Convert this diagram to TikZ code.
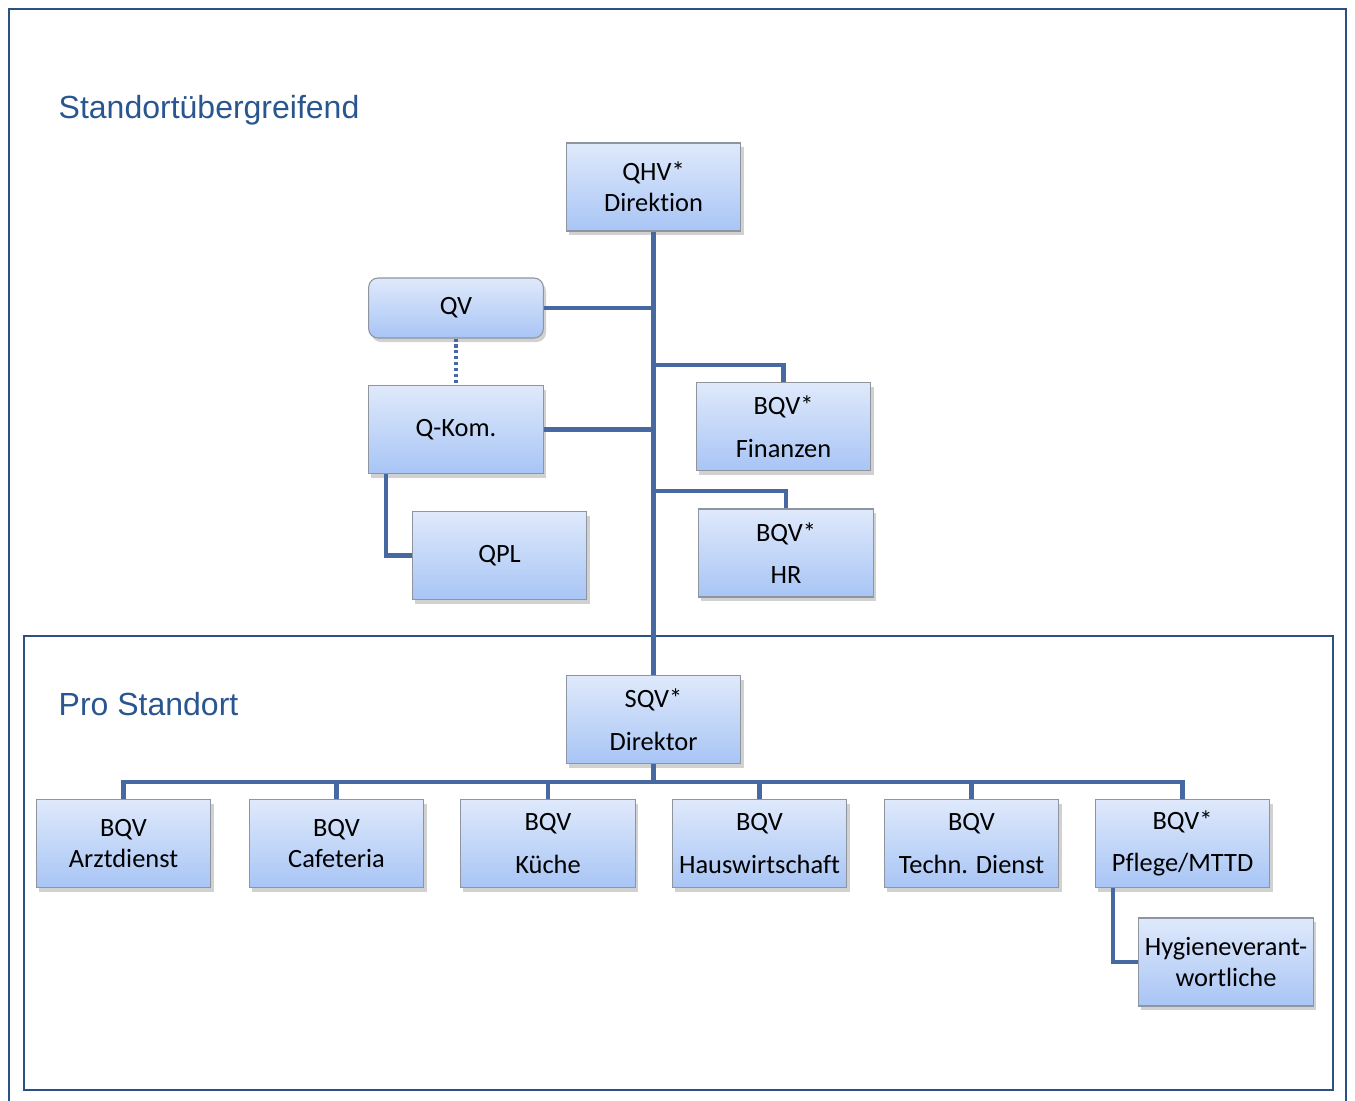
\documentclass[tikz,border=0pt]{standalone}
\usepackage{fontspec}
\setmainfont{Carlito}[Ligatures=NoCommon]
\newfontfamily\headfont{Liberation Sans}
\usetikzlibrary{shadows}

\definecolor{framecol}{HTML}{2B5184}
\definecolor{headcol}{HTML}{2A5690}
\definecolor{linecol}{HTML}{4569A0}
\definecolor{boxtop}{HTML}{DFE9FB}
\definecolor{boxbot}{HTML}{A8C5F5}
\definecolor{boxline}{HTML}{8E959E}

\tikzset{
  orgbox/.style={draw=boxline, line width=0.8pt, top color=boxtop, bottom color=boxbot,
    minimum width=131pt, minimum height=66pt, align=center, inner sep=2pt,
    font=\fontsize{19.8}{23}\selectfont,
    drop shadow={shadow xshift=2pt, shadow yshift=-3pt, opacity=0.3, fill=black!60}},
  orground/.style={orgbox, rounded corners=7pt, minimum height=45pt},
  conn/.style={linecol, line width=3.3pt},
  heading/.style={headcol, font=\headfont\fontsize{24}{28}\selectfont, anchor=west},
}

\begin{document}
\begin{tikzpicture}[x=0.75pt, y=-0.75pt]
    \useasboundingbox (0,0) rectangle (1355,1100);
    \clip (0,0) rectangle (1355,1100);

    % frames
    \draw[framecol, line width=1.6pt] (9,9) rectangle (1346,1115);
    \draw[framecol, line width=1.6pt] (24,636) rectangle (1333,1090);

    \node[heading] (hOben) at (54,110) {Standortübergreifend};
    \node[heading] (hUnten) at (54,704) {Pro Standort};

    % upper part
    \node[orgbox] (qhv) at (653.5,187) {QHV*\\Direktion};
    \node[orground] (qv) at (456,308) {QV};
    \node[orgbox] (qkom) at (456,429.5) {Q-Kom.};
    \node[orgbox] (qpl) at (499.5,555.5) {QPL};
    \node[orgbox] (fin) at (783.5,426.5) {BQV*\\[9pt]Finanzen};
    \node[orgbox] (hr) at (786,553) {BQV*\\[9pt]HR};

    % lower part
    \node[orgbox] (sqv) at (653.5,719.5) {SQV*\\[9pt]Direktor};
    \node[orgbox] (arzt) at (123.5,843.5) {BQV\\Arztdienst};
    \node[orgbox] (cafe) at (336.5,843.5) {BQV\\Cafeteria};
    \node[orgbox] (kueche) at (548,843.5) {BQV\\[9pt]Küche};
    \node[orgbox] (haus) at (759.5,843.5) {BQV\\[9pt]Hauswirtschaft};
    \node[orgbox] (techn) at (971.5,843.5) {BQV\\[9pt]Techn. Dienst};
    \node[orgbox] (pflege) at (1182.5,843.5) {BQV*\\[9pt]Pflege/MTTD};
    \node[orgbox] (hyg) at (1226,962) {Hygieneverant-\\wortliche};

    % connectors
    \draw[conn] (qhv.south) -- (sqv.north);
    \draw[conn] (qv.east) -- (qv.east -| qhv.south);
    \draw[conn] (qkom.east) -- (qkom.east -| qhv.south);
    \draw[conn] (qhv.south |- 0,365) -| (fin.north);
    \draw[conn] (qhv.south |- 0,491) -| (hr.north);
    \draw[conn] (qkom.south -| 386,0) |- (qpl.west);
    \draw[linecol, line width=2.4pt, dash pattern=on 2.4pt off 2pt] (qv.south) -- (qkom.north);

    \coordinate (bus) at (653.5,782);
    \draw[conn] (sqv.south) -- (bus);
    \foreach \n in {arzt,cafe,kueche,haus,techn,pflege}
        \draw[conn] (bus) -| (\n.north);
    \draw[conn] (pflege.south -| 1113,0) |- (hyg.west);
\end{tikzpicture}
\end{document}
